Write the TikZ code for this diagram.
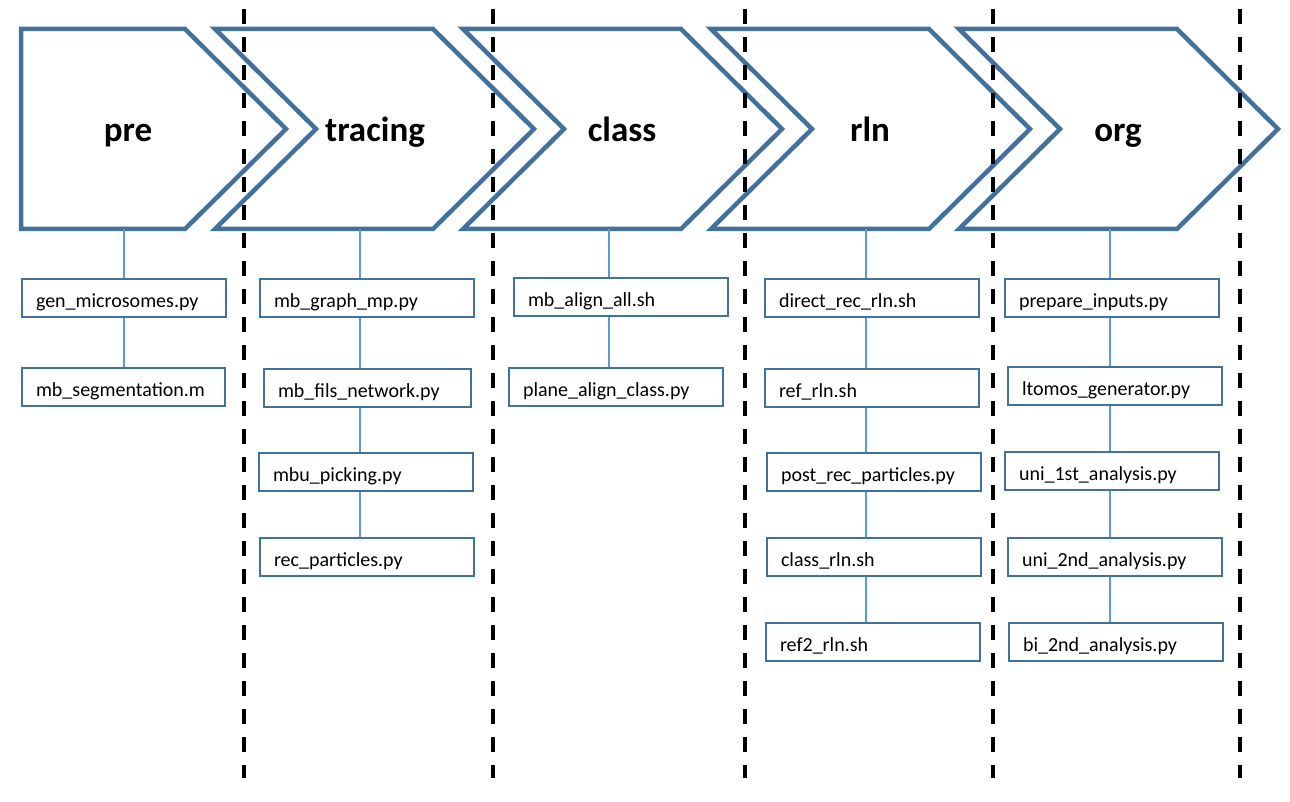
\documentclass[tikz,border=0pt]{standalone}
\usepackage{fontspec}
\setmainfont{Carlito}
\usetikzlibrary{calc}
\definecolor{shapeblue}{HTML}{41719C}
\definecolor{linkblue}{HTML}{5B9BD5}
\tikzset{
  stage/.style={draw=shapeblue, line width=4.5pt, fill=white, line join=miter},
  stagelabel/.style={font=\bfseries\fontsize{35}{40}\selectfont, anchor=base, inner sep=0pt},
  filebox/.style={draw=shapeblue, line width=2pt, fill=white, anchor=north west,
    minimum height=38pt, inner xsep=14pt, inner ysep=0pt, text height=22pt, text depth=4pt,
    text width=#1, align=left, font=\fontsize{20}{24}\selectfont},
  filebox/.default=186pt,
  link/.style={draw=linkblue, line width=2.8pt},
  divider/.style={draw=black, line width=4pt, dash pattern=on 15pt off 13pt}
}
\begin{document}
\begin{tikzpicture}[x=1pt, y=-1pt]
\useasboundingbox (0,0) rectangle (1290,802);
% stages
\draw[stage] (21,29) -- (185,29) -- (286,129) -- (185,229) -- (21,229) -- cycle;
\foreach \L in {215,463,711,959}
  \draw[stage] (\L,29) -- ++(218,0) -- ++(101,100) -- ++(-101,100) -- ++(-218,0) -- ++(101,-100) -- cycle;
\node[stagelabel] (pre) at (128,142) {pre};
\node[stagelabel] (tracing) at (375,142) {tracing};
\node[stagelabel] (class) at (622,142) {class};
\node[stagelabel] (rln) at (870,142) {rln};
\node[stagelabel] (org) at (1118,142) {org};
\coordinate (pre-b) at (124,229);
\coordinate (tracing-b) at (360,229);
\coordinate (class-b) at (609,229);
\coordinate (rln-b) at (866,229);
\coordinate (org-b) at (1110,229);
% scripts
\node[filebox=176pt] (p1) at (21,278) {gen\_microsomes.py};
\node[filebox=175pt] (p2) at (21,367) {mb\_segmentation.m};
\node[filebox] (t1) at (259,278) {mb\_graph\_mp.py};
\node[filebox=179pt] (t2) at (263,368) {mb\_fils\_network.py};
\node[filebox] (t3) at (258,452) {mbu\_picking.py};
\node[filebox] (t4) at (259,537) {rec\_particles.py};
\node[filebox] (c1) at (513,277) {mb\_align\_all.sh};
\node[filebox] (c2) at (508,367) {plane\_align\_class.py};
\node[filebox] (r1) at (764,278) {direct\_rec\_rln.sh};
\node[filebox] (r2) at (764,368) {ref\_rln.sh};
\node[filebox] (r3) at (766,452) {post\_rec\_particles.py};
\node[filebox] (r4) at (766,537) {class\_rln.sh};
\node[filebox] (r5) at (765,622) {ref2\_rln.sh};
\node[filebox] (o1) at (1004,278) {prepare\_inputs.py};
\node[filebox] (o2) at (1007,366) {ltomos\_generator.py};
\node[filebox] (o3) at (1004,451) {uni\_1st\_analysis.py};
\node[filebox] (o4) at (1007,537) {uni\_2nd\_analysis.py};
\node[filebox] (o5) at (1008,622) {bi\_2nd\_analysis.py};
% links
\draw[link] (pre-b) -- (pre-b |- p1.north);
\draw[link] (tracing-b) -- (tracing-b |- t1.north);
\draw[link] (class-b) -- (class-b |- c1.north);
\draw[link] (rln-b) -- (rln-b |- r1.north);
\draw[link] (org-b) -- (org-b |- o1.north);
\foreach \c/\a/\b in {pre/p1/p2, tracing/t1/t2, tracing/t2/t3, tracing/t3/t4, class/c1/c2,
  rln/r1/r2, rln/r2/r3, rln/r3/r4, rln/r4/r5, org/o1/o2, org/o2/o3, org/o3/o4, org/o4/o5}
  \draw[link] (\c-b |- \a.south) -- (\c-b |- \b.north);
% dividers
\foreach \x in {244,493,745,993,1240}
  \draw[divider] (\x,9) -- (\x,778);
\end{tikzpicture}
\end{document}
